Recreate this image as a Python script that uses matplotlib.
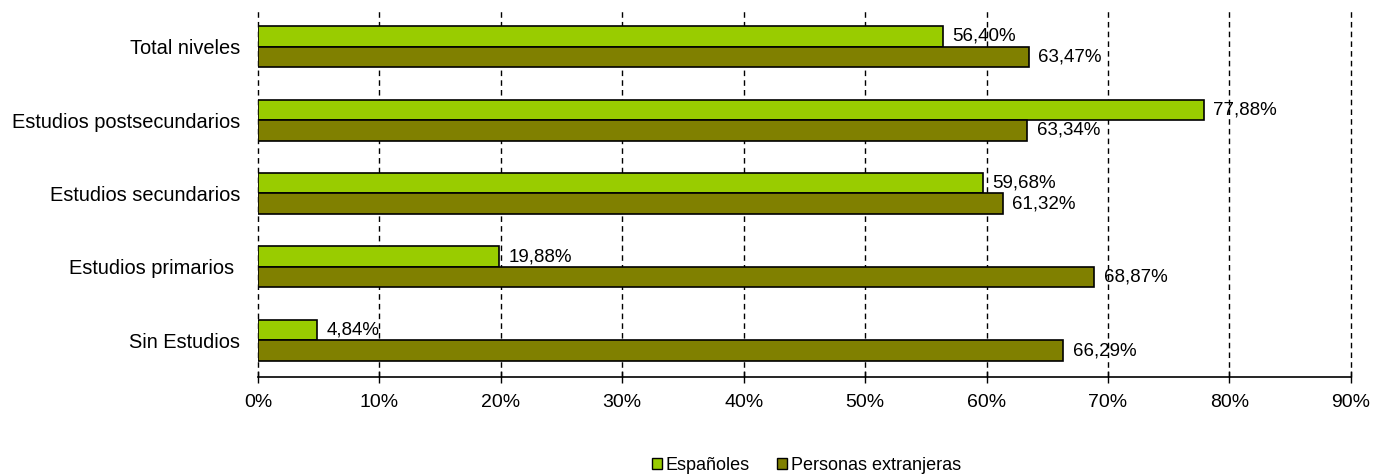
import matplotlib.pyplot as plt
import numpy as np
from matplotlib.patches import Patch

plt.rcParams['font.family'] = ['Liberation Sans', 'DejaVu Sans']

categorias = ['Total niveles', 'Estudios postsecundarios', 'Estudios secundarios',
              'Estudios primarios ', 'Sin Estudios']
espanoles = [56.40, 77.88, 59.68, 19.88, 4.84]
extranjeras = [63.47, 63.34, 61.32, 68.87, 66.29]
xticks = [0, 10, 20, 30, 40, 50, 60, 70, 80, 90]

col_esp = '#99cc00'
col_ext = '#808000'

fig = plt.figure(figsize=(13.86, 4.75), dpi=100)
ax = fig.add_axes([0.1861, 0.2063, 0.7886, 0.7727])

y = np.arange(len(categorias))
h = 0.28
ax.barh(y - h / 2, espanoles, height=h, color=col_esp, edgecolor='black', linewidth=1.2, zorder=3)
ax.barh(y + h / 2, extranjeras, height=h, color=col_ext, edgecolor='black', linewidth=1.2, zorder=3)

def fmt(v):
    return ('%.2f%%' % v).replace('.', ',')

for yi, v in zip(y, espanoles):
    ax.annotate(fmt(v), (v, yi - h / 2), xytext=(7, 0), textcoords='offset points',
                va='center', ha='left', fontsize=13.5, zorder=4)
for yi, v in zip(y, extranjeras):
    ax.annotate(fmt(v), (v, yi + h / 2), xytext=(7, 0), textcoords='offset points',
                va='center', ha='left', fontsize=13.5, zorder=4)

ax.set_xlim(0, 90)
ax.set_ylim(len(categorias) - 0.5, -0.5)
ax.set_xticks(xticks)
ax.set_xticklabels(['%d%%' % t for t in xticks], fontsize=14)
ax.set_yticks(y)
ax.set_yticklabels(categorias, fontsize=14.4)
ax.tick_params(axis='y', length=0, pad=13)
ax.tick_params(axis='x', direction='inout', length=8, width=1, pad=8)

ax.xaxis.grid(True, linestyle=(0, (4, 3)), color='black', linewidth=1)
for gl in ax.get_xgridlines():
    gl.set_clip_on(False)
ax.set_axisbelow(True)
for s in ['top', 'right', 'left']:
    ax.spines[s].set_visible(False)
ax.spines['bottom'].set_linewidth(1.2)

handles = [Patch(facecolor=col_esp, edgecolor='black', label='Españoles'),
           Patch(facecolor=col_ext, edgecolor='black', label='Personas extranjeras')]
fig.legend(handles=handles, loc='center', bbox_to_anchor=(0.582, 0.021), ncol=2,
           frameon=False, fontsize=13, handlelength=0.55, handleheight=0.55,
           handletextpad=0.2, columnspacing=1.5)

fig.savefig('out.png', dpi=100)
